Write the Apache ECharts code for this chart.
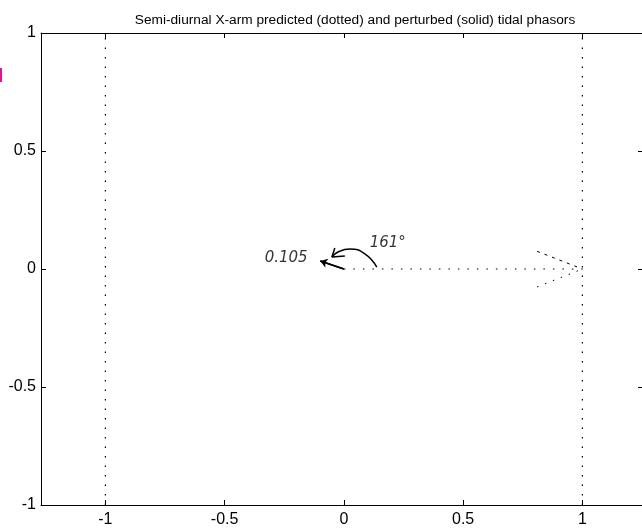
<!DOCTYPE html>
<html>
<head>
<meta charset="utf-8">
<script src="https://cdn.jsdelivr.net/npm/echarts@6/dist/echarts.min.js"></script>
<style>
  html, body { margin: 0; padding: 0; background: #fff; }
  #container { width: 642px; height: 530px; }
</style>
</head>
<body>
<div id="container"></div>
<script>
var dom = document.getElementById("container");
var myChart = echarts.init(dom);

// tick positions
var xTicks = [-1, -0.5, 0, 0.5, 1];
var yTicks = [-1, -0.5, 0, 0.5, 1];

// reference lines at x = -1 and x = 1
var leftLimit = [[-1, -1], [-1, 1]];
var rightLimit = [[1, -1], [1, 1]];

// predicted phasor (dotted) and its arrow head
var predicted = [[0, 0], [1, 0]];
var predHeadUp = [[0.81, 0.075], [1, 0]];
var predHeadDown = [[0.81, -0.076], [1, 0]];

// perturbed phasor (solid): amplitude 0.105, phase 161 deg
var perturbed = [[0, 0], [-0.099, 0.034]];

// handwritten angle arc and its arrow head
var arc = [[0.138, 0.008], [0.088, 0.064], [0.025, 0.085], [-0.025, 0.072], [-0.05, 0.051]];
var arcHead = [[-0.038, 0.089], [-0.05, 0.051], [0.004, 0.055]];

// handwritten notes
var notes = [
    { value: [-0.242, 0.047], text: '0.105' },
    { value: [0.184, 0.11], text: '161°' }
];

var axisFont = { color: '#000', fontFamily: 'Liberation Sans, Arial, sans-serif', fontSize: 16 };

function segment(data, type, width) {
    return {
        type: 'line',
        data: data,
        showSymbol: false,
        silent: true,
        lineStyle: { color: '#000', width: width || 1, type: type }
    };
}

var option = {
    animation: false,
    title: {
        text: 'Semi-diurnal X-arm predicted (dotted) and perturbed (solid) tidal phasors',
        left: 350,
        textAlign: 'center',
        top: 8,
        textStyle: { color: '#000', fontWeight: 'normal', fontSize: 13.7, fontFamily: 'Liberation Sans, Arial, sans-serif' }
    },
    grid: { left: 41, right: 0, top: 33, bottom: 25 },
    xAxis: [{
        type: 'value',
        min: -1.27,
        max: 1.25,
        position: 'bottom',
        splitLine: { show: false },
        axisLine: { onZero: false, lineStyle: { color: '#000', width: 1 } },
        axisTick: { inside: true, length: 5, customValues: xTicks, lineStyle: { color: '#000' } },
        axisLabel: Object.assign({ customValues: xTicks, margin: 7 }, axisFont)
    }, {
        type: 'value',
        min: -1.27,
        max: 1.25,
        position: 'top',
        splitLine: { show: false },
        axisLine: { onZero: false, lineStyle: { color: '#000', width: 1 } },
        axisTick: { inside: true, length: 5, customValues: xTicks, lineStyle: { color: '#000' } },
        axisLabel: { show: false }
    }],
    yAxis: [{
        type: 'value',
        min: -1,
        max: 1,
        position: 'left',
        splitLine: { show: false },
        axisLine: { onZero: false, lineStyle: { color: '#000', width: 1 } },
        axisTick: { inside: true, length: 5, customValues: yTicks, lineStyle: { color: '#000' } },
        axisLabel: Object.assign({ customValues: yTicks, margin: 5 }, axisFont)
    }, {
        type: 'value',
        min: -1,
        max: 1,
        position: 'right',
        splitLine: { show: false },
        axisLine: { onZero: false, lineStyle: { color: '#000', width: 1 } },
        axisTick: { inside: true, length: 4, customValues: yTicks, lineStyle: { color: '#000' } },
        axisLabel: { show: false }
    }],
    graphic: [{
        type: 'rect',
        shape: { x: 0, y: 68, width: 2, height: 14 },
        style: { fill: '#e0149a' }
    }],
    series: [
        segment(leftLimit, [1.5, 8], 1.2),
        segment(rightLimit, [1.5, 8], 1.2),
        segment(predicted, [1.5, 8], 1.2),
        segment(predHeadUp, [3, 5]),
        segment(predHeadDown, [1.5, 7]),
        {
            type: 'line',
            data: perturbed,
            showSymbol: false,
            silent: true,
            lineStyle: { color: '#000', width: 1.5 },
            markLine: {
                silent: true,
                symbol: ['none', 'arrow'],
                symbolSize: 7,
                label: { show: false },
                lineStyle: { color: '#000', width: 1.5, type: 'solid' },
                data: [[{ coord: perturbed[0] }, { coord: perturbed[1] }]]
            }
        },
        Object.assign(segment(arc, 'solid', 1.5), { smooth: true }),
        segment(arcHead, 'solid', 1.5),
        {
            type: 'scatter',
            symbolSize: 0,
            silent: true,
            data: notes.map(function (n) { return { value: n.value, name: n.text }; }),
            label: {
                show: true,
                position: 'inside',
                formatter: function (p) { return p.name; },
                color: '#000',
                fontSize: 15,
                fontStyle: 'italic',
                fontFamily: 'DejaVu Sans, sans-serif'
            }
        }
    ]
};

myChart.setOption(option, true);
</script>
</body>
</html>
